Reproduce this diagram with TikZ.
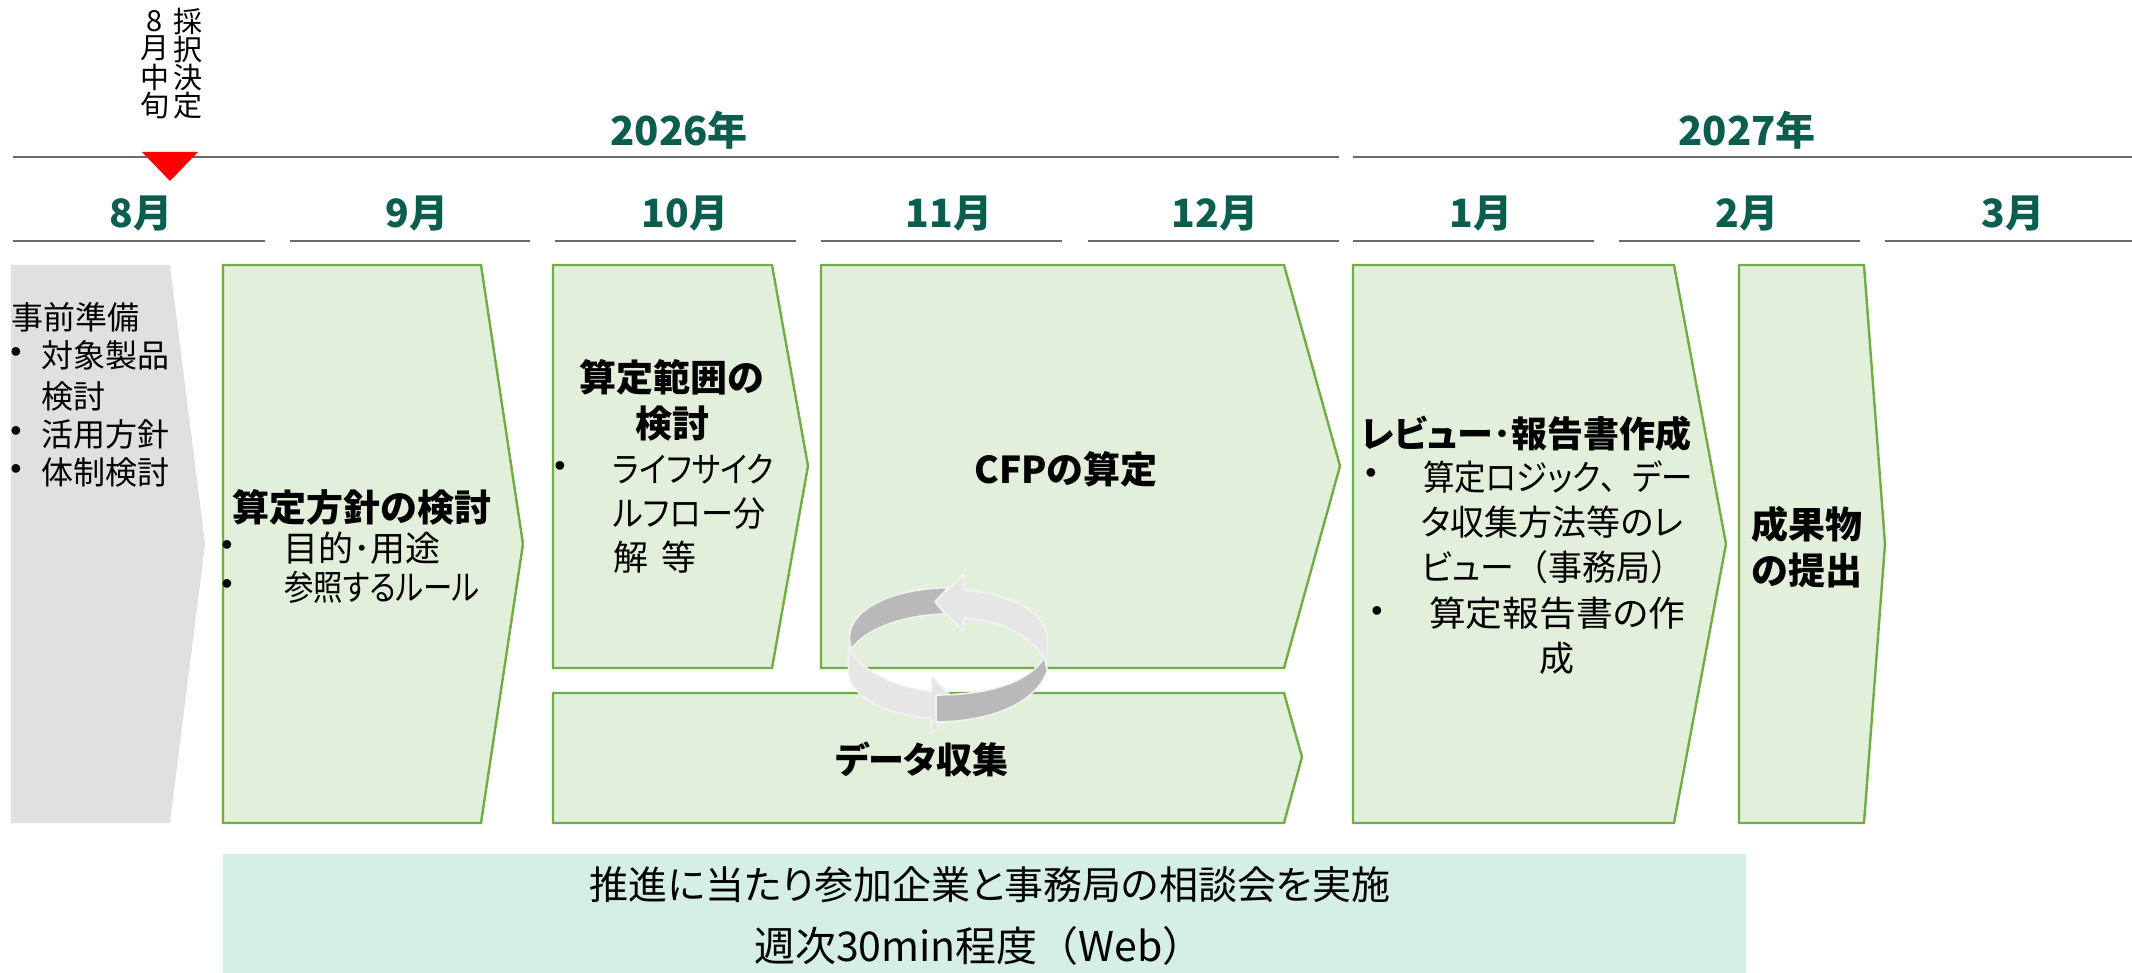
\documentclass[tikz,border=0pt]{standalone}
\usepackage{fontspec}
\setmainfont[RawFeature=+palt]{Noto Sans CJK JP}
\newfontfamily\fullw{Noto Sans CJK JP}
\newfontfamily\bulf{Liberation Sans}
\definecolor{hgreen}{HTML}{0B5D4E}
\definecolor{rulegray}{HTML}{6B6B6B}
\definecolor{stepedge}{HTML}{70AD47}
\definecolor{stepfill}{HTML}{E2EFDA}
\definecolor{prefill}{HTML}{E0E0E0}
\definecolor{barfill}{HTML}{D5EEE8}
\definecolor{ringedge}{HTML}{F2F2F2}
\definecolor{ringlight}{HTML}{E6E6E6}
\definecolor{ringdark}{HTML}{B9B9B9}
\newcommand{\fs}[1]{\fontsize{#1pt}{#1pt}\selectfont}
\tikzset{
  rulel/.style={draw=rulegray,line width=1.5pt},
  stepshape/.style={draw=stepedge,fill=stepfill,line width=2.4pt,line join=miter},
  yearlab/.style={text=hgreen,font=\fs{40}\bfseries,inner sep=0pt,anchor=center},
  monthlab/.style={text=hgreen,font=\fs{39}\bfseries,inner sep=0pt,anchor=center},
  titlelab/.style={text=black,font=\fs{37}\bfseries,inner sep=0pt,anchor=center,align=center},
  bodylab/.style={text=black,font=\fs{32}\selectfont,inner sep=0pt,anchor=west},
  bodybig/.style={text=black,font=\fs{35}\selectfont,inner sep=0pt,anchor=west,transform shape},
  bulletlab/.style={text=black,font=\fs{32}\bulf,inner sep=0pt,anchor=center},
  barlab/.style={text=black,font=\fs{39},inner sep=0pt,anchor=center},
  vertlab/.style={text=black,font=\fs{29},inner sep=0pt,anchor=center},
  ringl/.style={draw=ringedge,fill=ringlight,line width=1.6pt,line join=round},
  ringd/.style={draw=ringedge,fill=ringdark,line width=1.6pt,line join=round},
}
\begin{document}
\begin{tikzpicture}[x=1pt,y=-1pt]
\useasboundingbox (0,0) rectangle (2132,973);
% rules
\draw[rulel] (13,157) -- (1339,157);
\draw[rulel] (1353,157) -- (2132,157);
\foreach \a/\b in {13/265,290/530,555/796,821/1062,1088/1339,1353/1594,1619/1860,1885/2132}
  \draw[rulel] (\a,241) -- (\b,241);
% marker
\fill[red] (142,152) -- (198,152) -- (170,181) -- cycle;
% vertical labels
\node[vertlab] (vA) at (155,21) {8};
\node[vertlab] (vB) at (155,48) {月};
\node[vertlab] (vC) at (155,77) {中};
\node[vertlab] (vD) at (155,106) {旬};
\node[vertlab] (vE) at (188,22) {採};
\node[vertlab] (vF) at (188,50) {択};
\node[vertlab] (vG) at (188,78) {決};
\node[vertlab] (vH) at (188,106) {定};
% years and months
\node[yearlab] (y26) at (679,130) {2026年};
\node[yearlab] (y27) at (1747,130) {2027年};
\node[monthlab] (m8) at (141,214) {8月};
\node[monthlab] (m9) at (417,214) {9月};
\node[monthlab] (m10) at (685,214) {10月};
\node[monthlab] (m11) at (949,214) {11月};
\node[monthlab] (m12) at (1215,214) {12月};
\node[monthlab] (m1) at (1481,214) {1月};
\node[monthlab] (m2) at (1747,214) {2月};
\node[monthlab] (m3) at (2013,214) {3月};
% chevrons
\fill[prefill] (11,265) -- (170,265) -- (205,544) -- (170,823) -- (11,823) -- cycle;
\draw[stepshape] (223,265) -- (481,265) -- (523,544) -- (481,823) -- (223,823) -- cycle;
\draw[stepshape] (553,265) -- (772,265) -- (808,466) -- (772,668) -- (553,668) -- cycle;
\draw[stepshape] (821,265) -- (1284,265) -- (1340,466) -- (1284,668) -- (821,668) -- cycle;
\draw[stepshape] (553,693) -- (1284,693) -- (1302,757) -- (1284,823) -- (553,823) -- cycle;
\draw[stepshape] (1353,265) -- (1674,265) -- (1726,544) -- (1674,823) -- (1353,823) -- cycle;
\draw[stepshape] (1739,265) -- (1864,265) -- (1885,544) -- (1864,823) -- (1739,823) -- cycle;
\fill[barfill] (223,854) rectangle (1746,973);
% gray box text
\node[bodylab] (p0) at (11,317) {事前準備};
\node[bulletlab] (pb1) at (16,355) {•};
\node[bodylab] (p1) at (41,355) {対象製品};
\node[bodylab] (p2) at (41,396) {検討};
\node[bulletlab] (pb2) at (16,434) {•};
\node[bodylab] (p3) at (41,434) {活用方針};
\node[bulletlab] (pb3) at (16,472) {•};
\node[bodylab] (p4) at (41,472) {体制検討};
% box 1
\node[titlelab] (t1) at (362,507) {算定方針の検討};
\node[bulletlab] (b1a) at (227,548) {•};
\node[bodybig] (b1at) at (283,548) {目的･用途};
\node[bulletlab] (b1b) at (227,587) {•};
\node[bodybig,xscale=.84] (b1bt) at (284,587) {参照するルール};
% box 2
\node[titlelab] (t2) at (672,400) {算定範囲の\\[9pt]検討};
\node[bulletlab] (b2a) at (560,469) {•};
\node[bodybig,xscale=.87] (b2at) at (613,469) {ライフサイク};
\node[bodybig,xscale=.92] (b2bt) at (613,514) {ルフロー分};
\node[bodybig] (b2ct) at (613,557) {解\hspace{5pt} 等};
% CFP and data
\node[titlelab] (t3) at (1066,469) {CFPの算定};
\node[titlelab,font=\fs{36}\bfseries] (t4) at (922,759) {データ収集};
% box 5
\node[titlelab,font=\fs{36}\bfseries] (t5) at (1526,434) {レビュー･報告書作成};
\node[bulletlab] (b5a) at (1371,476) {•};
\node[bodybig,xscale=.90] (b5at) at (1423,477) {算定ロジック{\fullw 、}デー};
\node[bodybig,xscale=.97] (b5bt) at (1421,522) {タ収集方法等のレ};
\node[bodybig,xscale=.97] (b5ct) at (1421,567) {ビュー{\fullw（}事務局{\fullw ）}};
\node[bulletlab] (b5d) at (1377,614) {•};
\node[bodybig,anchor=center,xscale=1.05] (b5dt) at (1557,613) {算定報告書の作};
\node[bodybig,anchor=center] (b5et) at (1557,658) {成};
% box 6
\node[titlelab] (t6) at (1807,547) {成果物\\[9pt]の提出};
% bar
\node[barlab] (bar1) at (990,885) {推進に当たり参加企業と事務局の相談会を実施};
\node[barlab,font=\fs{41}] (bar2) at (979,946) {週次30min程度{\fullw （}Web{\fullw ）}};
% cycle ring
\begin{scope}[shift={(800,540)},x=0.3333pt,y=-0.3333pt]
\path[ringl] (395,408) -- (478,495) -- (395,580) -- (395,535)
  .. controls (255,525) and (145,470) .. (145,390) -- (145,328)
  .. controls (190,395) and (290,445) .. (395,455) -- cycle;
\path[ringd] (408,465) .. controls (570,465) and (690,425) .. (733,352)
  -- (742,390) .. controls (715,480) and (590,545) .. (408,546) -- cycle;
\path[ringl] (405,185) -- (490,105) -- (490,150)
  .. controls (630,160) and (742,220) .. (742,295) -- (742,350) -- (733,352)
  .. controls (690,285) and (600,240) .. (490,235) -- (490,275) -- cycle;
\path[ringd] (405,185) -- (445,143)
  .. controls (280,145) and (148,205) .. (148,295) -- (152,328)
  .. controls (200,265) and (310,225) .. (435,222) -- cycle;
\end{scope}
\end{tikzpicture}
\end{document}
